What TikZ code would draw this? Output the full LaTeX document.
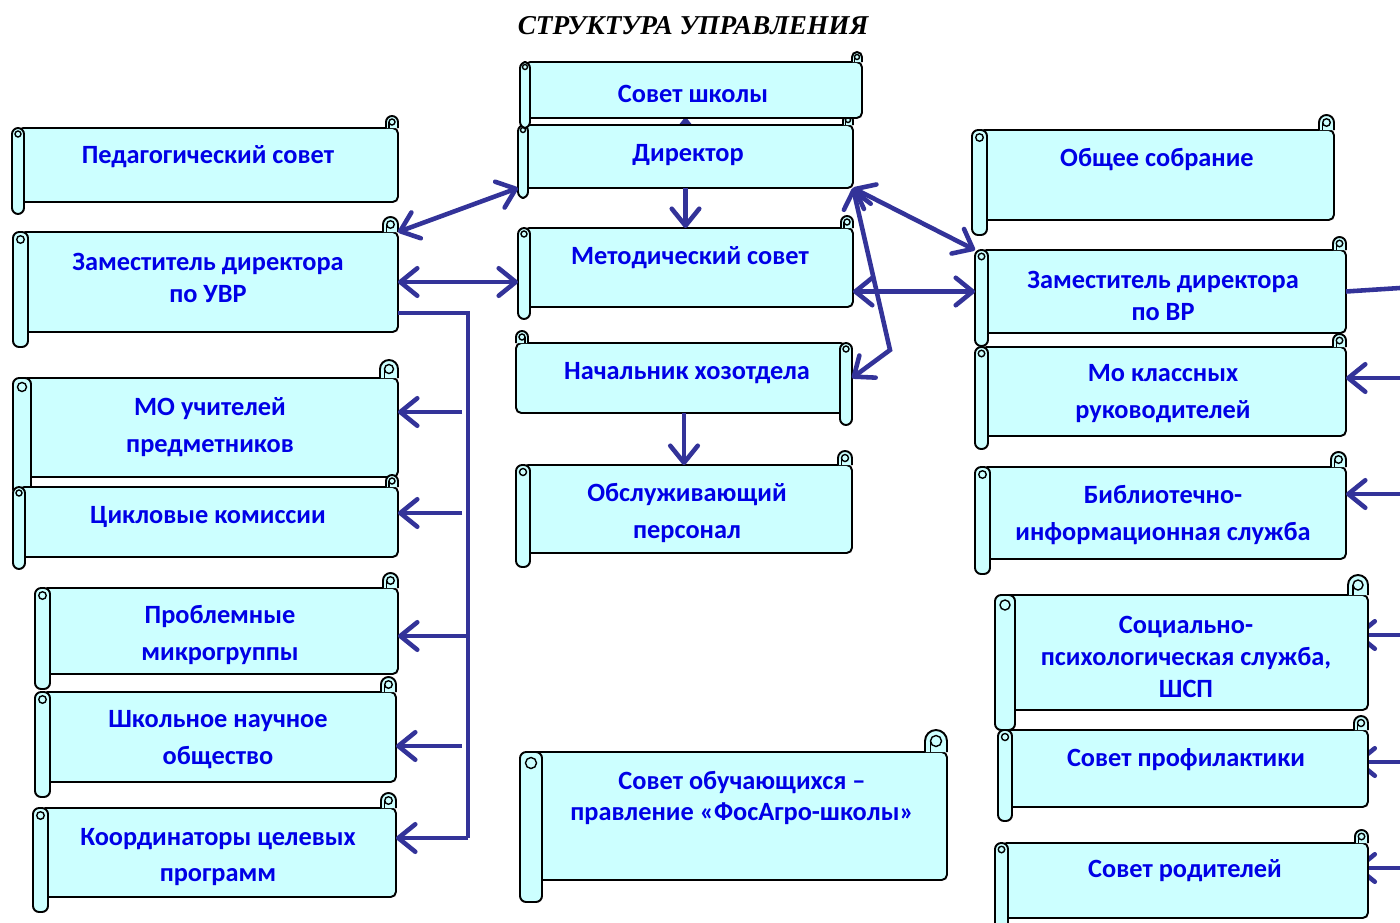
\documentclass[tikz,border=0pt]{standalone}
\usepackage{fontspec}
\setmainfont{Carlito}
\newfontfamily\titlefont{Liberation Serif}
\usetikzlibrary{arrows.meta}

\definecolor{scrollfill}{RGB}{204,255,255}
\definecolor{linkblue}{RGB}{51,51,153}
\definecolor{textblue}{RGB}{0,0,230}

\pgfdeclarelayer{back}
\pgfsetlayers{back,main}

\tikzset{
  scrollline/.style={draw=black, line width=1.1pt, fill=scrollfill},
  bodybox/.style={inner sep=0pt, outer sep=0pt},
  scrolltext/.style={text=textblue, font=\fontsize{15}{18}\selectfont\bfseries, align=center, yshift=-0.04cm},
  link/.style={draw=linkblue, line width=2.6pt},
  >={Straight Barb[length=3.4mm,width=5.5mm,round]}
}

% xl, ytop, xr, ybottom, roll width
\newcommand{\scrollshape}[5]{%
  \draw[scrollline, rounded corners=3pt] (#1+#5/2,#2) -- (#3,#2) -- (#3,#4) -- (#1+#5/2,#4) -- cycle;
  \draw[scrollline] (#3-#5,#2) -- (#3-#5,#2-#5/2) arc[start angle=180, end angle=360, radius=#5/2] -- (#3,#2);
  \draw[scrollline, fill=none, line width=0.8pt] (#3-#5/2,#2-#5/2) circle[radius=#5/4];
  \draw[scrollline, line width=0.8pt] (#3-#5*3/4,#2-#5/2) -- (#3-#5*3/4,#2);
  \draw[scrollline, rounded corners=3.5pt] (#1,#2) rectangle (#1+#5,#4+#5);
  \draw[scrollline, fill=none, line width=0.8pt] (#1+#5/2,#2+#5/2) circle[radius=#5/4];
}
\newcommand{\scroll}[6]{%
  \scrollshape{#2}{#3}{#4}{#5}{#6}
  \node[bodybox, minimum width={(#4-#2)*0.02cm}, minimum height={(#5-#3)*0.02cm}] (#1) at ({(#2+#4)/2},{(#3+#5)/2}) {};
}

\begin{document}
\begin{tikzpicture}[x=0.02cm, y=-0.02cm]
    \useasboundingbox (0,0) rectangle (1400,923);

    \node[font=\titlefont\fontsize{15.5}{17}\selectfont\bfseries\itshape] (title) at (693,26) {СТРУКТУРА УПРАВЛЕНИЯ};

    \scroll{ped}{12}{128}{398}{202}{12}
    \scroll{uvr}{13}{232}{398}{332}{15}
    \scroll{mo}{13}{378}{398}{477}{18}
    \scroll{cyc}{13}{487}{398}{557}{12}
    \scroll{prob}{35}{588}{398}{674}{15}
    \scroll{shk}{35}{692}{396}{782}{15}
    \scroll{koord}{33}{808}{396}{897}{15}

    \scroll{dir}{518}{125}{853}{188}{10}
    \scroll{school}{520}{62}{862}{118}{10}
    \scroll{met}{518}{228}{853}{307}{12}
    \begin{scope}[shift={(1368,0)}, xscale=-1]
        \scroll{hoz}{516}{343}{852}{413}{12}
    \end{scope}
    \scroll{obs}{516}{465}{852}{553}{14}
    \scroll{sovob}{520}{752}{947}{880}{22}

    \scroll{gen}{972}{130}{1334}{220}{15}
    \scroll{vr}{975}{250}{1346}{333}{13}
    \scroll{mokl}{975}{347}{1346}{436}{13}
    \scroll{bibl}{975}{467}{1346}{559}{15}
    \scroll{soc}{995}{595}{1368}{710}{20}
    \scroll{prof}{998}{730}{1368}{807}{14}
    \scroll{par}{995}{843}{1368}{918}{13}

    \node[scrolltext] (ped-t) at (208,155) {Педагогический совет};
    \node[scrolltext] (uvr-t) at (208,276) {Заместитель директора\\по УВР};
    \node[scrolltext] (mo-t) at (210,425) {МО учителей\\[3pt]предметников};
    \node[scrolltext] (cyc-t) at (208,515) {Цикловые комиссии};
    \node[scrolltext] (prob-t) at (220,633) {Проблемные\\[3pt]микрогруппы};
    \node[scrolltext] (shk-t) at (218,738) {Школьное научное\\[3pt]общество};
    \node[scrolltext] (koord-t) at (218,855) {Координаторы целевых\\[3pt]программ};
    \node[scrolltext] (school-t) at (693,92) {Совет школы};
    \node[scrolltext] (dir-t) at (688,153) {Директор};
    \node[scrolltext] (met-t) at (690,256) {Методический совет};
    \node[scrolltext] (hoz-t) at (687,371) {Начальник хозотдела};
    \node[scrolltext] (obs-t) at (687,511) {Обслуживающий\\[3pt]персонал};
    \node[scrolltext] (sovob-t) at (742,796) {Совет обучающихся –\\правление «ФосАгро-школы»};
    \node[scrolltext] (gen-t) at (1157,158) {Общее собрание};
    \node[scrolltext] (vr-t) at (1163,294) {Заместитель директора\\по ВР};
    \node[scrolltext] (mokl-t) at (1163,392) {Мо классных\\[3pt]руководителей};
    \node[scrolltext] (bibl-t) at (1163,513) {Библиотечно-\\[3pt]информационная служба};
    \node[scrolltext] (soc-t) at (1186,655) {Социально-\\психологическая служба,\\ШСП};
    \node[scrolltext] (prof-t) at (1186,758) {Совет профилактики};
    \node[scrolltext] (par-t) at (1185,869) {Совет родителей};

    \draw[link,->] (dir.south) -- (met.north);
    \draw[link,<->] (uvr.north east) -- (dir.south west);
    \draw[link,<->] (uvr.east) -- (uvr.east -| met.west);
    \draw[link,<->] (dir.south east) -- (vr.north west);
    \draw[link,<->] (met.east |- vr.west) -- (vr.west);
    \coordinate (hoz-bend) at (890,350);
    \draw[link,<->] (dir.south east) -- (hoz-bend) -- (hoz.east);
    \draw[link,->] (hoz.south) -- (obs.north);

    \coordinate (trunk-top) at (468,313);
    \coordinate (trunk-bot) at (468,838);
    \coordinate (mo-in) at (462,412);
    \coordinate (cyc-in) at (462,513);
    \coordinate (prob-in) at (468,636);
    \coordinate (shk-in) at (462,746);
    \draw[link] (uvr.east |- trunk-top) -- (trunk-top) -- (trunk-bot);
    \draw[link,->] (mo-in) -- (mo-in -| mo.east);
    \draw[link,->] (cyc-in) -- (cyc-in -| cyc.east);
    \draw[link,->] (prob-in) -- (prob-in -| prob.east);
    \draw[link,->] (shk-in) -- (shk-in -| shk.east);
    \draw[link,->] (trunk-bot) -- (trunk-bot -| koord.east);

    \coordinate (vr-out) at (1400,288);
    \coordinate (mokl-in) at (1400,378);
    \coordinate (bibl-in) at (1400,494);
    \coordinate (soc-in) at (1400,635);
    \coordinate (prof-in) at (1400,762);
    \coordinate (par-in) at (1400,868);
    \draw[link] (vr.east) -- (vr-out);
    \draw[link,->] (mokl-in) -- (mokl-in -| mokl.east);
    \draw[link,->] (bibl-in) -- (bibl-in -| bibl.east);

    \begin{pgfonlayer}{back}
        \draw[link,->] (dir.north) -- (dir.north |- school.south);
        \draw[link,->,shorten >=-0.25cm] (soc-in) -- (soc-in -| soc.east);
        \draw[link,->,shorten >=-0.25cm] (prof-in) -- (prof-in -| prof.east);
        \draw[link,->,shorten >=-0.25cm] (par-in) -- (par-in -| par.east);
    \end{pgfonlayer}
\end{tikzpicture}
\end{document}
